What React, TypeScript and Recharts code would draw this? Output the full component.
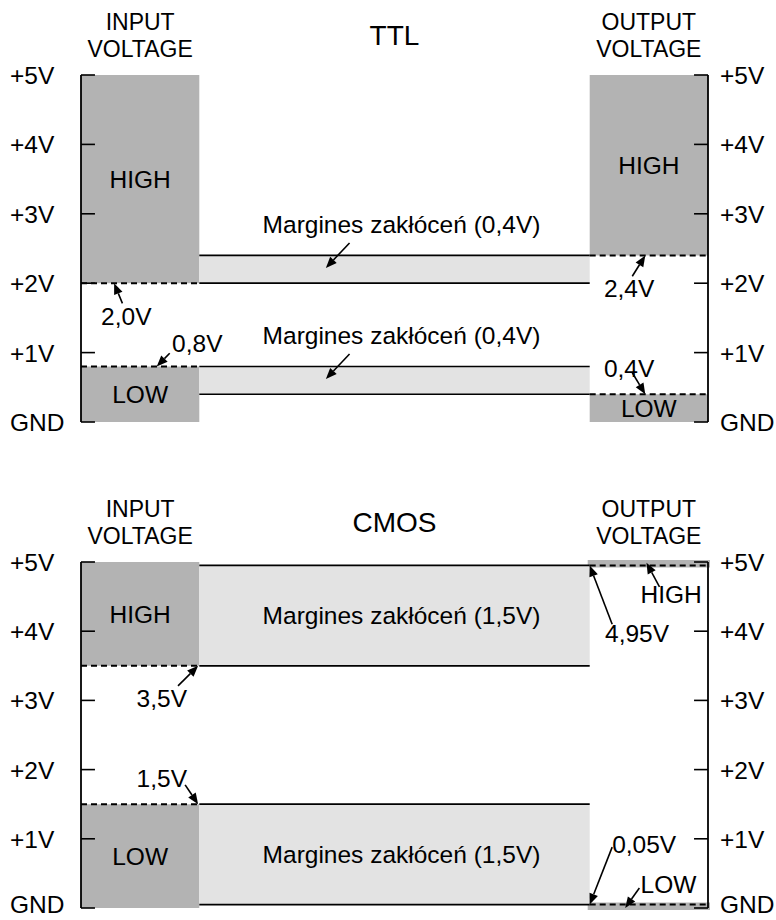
import { ComposedChart, XAxis, YAxis, ReferenceArea, ReferenceLine, Scatter } from "recharts"

// logic families and their threshold levels (V)
const families = ["TTL", "CMOS"]
const inputHigh = [2.0, 3.5] // VIH min
const inputLow = [0.8, 1.5] // VIL max
const outputHigh = [2.4, 4.95] // VOH min
const outputLow = [0.4, 0.05] // VOL max
const marginLabels = ["0,4V", "1,5V"]
const marginText = "Margines zakłóceń"
const voltTicks = [0, 1, 2, 3, 4, 5]
const supply = 5
const columnNames = ["INPUT", "VOLTAGE", "OUTPUT"]

// column edges on the x scale
const IN_L = 0
const IN_R = 1
const OUT_L = 4.3
const OUT_R = 5.3
const TICK = 0.118
const headerTicks = [0.5, 2.65, 4.8]

const FONT = "'Liberation Sans', Arial, sans-serif"
const FS = 24.5
const HFS = 23
const DARK = "#b3b3b3"
const LIGHT = "#e3e3e3"

const fmt = (v: number) =>
  (Number.isInteger(Math.round(v * 1000) / 100) ? v.toFixed(1) : v.toFixed(2)).replace(".", ",") + "V"

// annotation placement: text anchor (tx, ty), arrow tail (ax, ay), arrow head (hx, hy)
const ttlNotes = [
  { text: fmt(inputHigh[0]), tx: 0.17, ty: 1.4, ax: 0.35, ay: 1.71, hx: 0.28, hy: inputHigh[0] },
  { text: fmt(inputLow[0]), tx: 0.77, ty: 1.01, ax: 0.75, ay: 0.99, hx: 0.64, hy: inputLow[0] },
  { text: fmt(outputHigh[0]), tx: 4.42, ty: 1.8, ax: 4.66, ay: 2.1, hx: 4.77, hy: outputHigh[0] },
  { text: fmt(outputLow[0]), tx: 4.42, ty: 0.65, ax: 4.66, ay: 0.71, hx: 4.77, hy: outputLow[0] },
]
const cmosNotes = [
  { text: fmt(inputHigh[1]), tx: 0.47, ty: 2.9, ax: 0.82, ay: 3.21, hx: 0.99, hy: inputHigh[1] },
  { text: fmt(inputLow[1]), tx: 0.47, ty: 1.75, ax: 0.88, ay: 1.78, hx: 0.99, hy: inputLow[1] },
  { text: fmt(outputHigh[1]), tx: 4.43, ty: 3.84, ax: 4.49, ay: 4.1, hx: 4.3, hy: outputHigh[1] },
  { text: "HIGH", tx: 4.73, ty: 4.41, ax: 4.89, ay: 4.64, hx: 4.78, hy: 4.99 },
  { text: fmt(outputLow[1]), tx: 4.49, ty: 0.79, ax: 4.49, ay: 0.88, hx: 4.3, hy: outputLow[1] },
  { text: "LOW", tx: 4.73, ty: 0.22, ax: 4.72, ay: 0.29, hx: 4.6, hy: 0.0 },
]

const Arrow = (p: any) => {
  const { x1, y1, x2, y2 } = p
  const dx = x2 - x1
  const dy = y2 - y1
  const len = Math.hypot(dx, dy) || 1
  const ux = dx / len
  const uy = dy / len
  const L = 11
  const W = 4.5
  const bx = x2 - ux * L
  const by = y2 - uy * L
  const pts = `${x2},${y2} ${bx - uy * W},${by + ux * W} ${bx + uy * W},${by - ux * W}`
  return (
    <g>
      <line x1={x1} y1={y1} x2={bx} y2={by} stroke="#000" strokeWidth={1.6} />
      <polygon points={pts} fill="#000" />
    </g>
  )
}

const voltLabel = (v: number) => (v === 0 ? "GND" : `+${v}V`)

const VoltTick = (p: any) => (
  <text
    x={p.x}
    y={p.y + (p.payload.value === 0 ? p.gndDy : 9)}
    textAnchor="start"
    fontSize={FS}
    fontFamily={FONT}
    fill="#000"
  >
    {voltLabel(p.payload.value)}
  </text>
)

function LevelChart({ i, height, top, bottom }: { i: number; height: number; top: number; bottom: number }) {
  const vih = inputHigh[i]
  const vil = inputLow[i]
  const voh = outputHigh[i]
  const vol = outputLow[i]
  const notes = i === 0 ? ttlNotes : cmosNotes
  const cmos = i === 1
  const gndDy = cmos ? 5 : 9
  const lbl = { fill: "#000", fontSize: FS, fontFamily: FONT }
  const marginPos = cmos ? "center" : "top"

  // arrows into the TTL noise-margin bands
  const bandArrows = cmos
    ? []
    : [(vih + voh) / 2, (vol + vil) / 2].map((c) => ({ ax: 2.27, ay: c + 0.38, hx: 2.07, hy: c + 0.02 }))

  const HeaderTick = (p: any) => {
    const x = p.x
    const y = p.y
    if (p.index === 1) {
      return (
        <text x={x} y={y - 30} textAnchor="middle" fontSize={28} fontFamily={FONT} fill="#000">
          {families[i]}
        </text>
      )
    }
    return (
      <g>
        <text x={x} y={y - 45} textAnchor="middle" fontSize={HFS} fontFamily={FONT} fill="#000">
          {p.index === 0 ? columnNames[0] : columnNames[2]}
        </text>
        <text x={x} y={y - 18} textAnchor="middle" fontSize={HFS} fontFamily={FONT} fill="#000">
          {columnNames[1]}
        </text>
      </g>
    )
  }

  return (
    <ComposedChart width={776} height={height} margin={{ top, right: 0, bottom, left: 0 }}>
      <XAxis
        dataKey="x"
        type="number"
        orientation="top"
        domain={[IN_L, OUT_R]}
        allowDataOverflow
        ticks={headerTicks}
        interval={0}
        height={60}
        axisLine={false}
        tickLine={false}
        tickSize={0}
        tickMargin={0}
        tick={(p: any) => <HeaderTick {...p} />}
      />
      <YAxis
        dataKey="y"
        type="number"
        domain={[0, supply]}
        allowDataOverflow
        ticks={voltTicks}
        interval={0}
        width={81}
        axisLine={false}
        tickLine={false}
        tickSize={-14}
        tickMargin={85}
        tick={(p: any) => <VoltTick {...p} gndDy={gndDy} />}
      />
      <YAxis
        yAxisId="r"
        orientation="right"
        type="number"
        domain={[0, supply]}
        allowDataOverflow
        ticks={voltTicks}
        interval={0}
        width={68}
        axisLine={false}
        tickLine={false}
        tickSize={-14}
        tickMargin={26}
        tick={(p: any) => <VoltTick {...p} gndDy={gndDy} />}
      />

      {/* input column */}
      <ReferenceArea x1={IN_L} x2={IN_R} y1={vih} y2={supply} fill={DARK} fillOpacity={1} stroke="none"
        label={{ value: "HIGH", position: "center", ...lbl }} />
      <ReferenceArea x1={IN_L} x2={IN_R} y1={0} y2={vil} fill={DARK} fillOpacity={1} stroke="none"
        label={{ value: "LOW", position: "center", ...lbl }} />

      {/* output column */}
      <ReferenceArea x1={OUT_L} x2={OUT_R} y1={voh} y2={supply} fill={DARK} fillOpacity={1}
        stroke={cmos ? DARK : "none"} strokeWidth={cmos ? 4 : 0}
        label={cmos ? undefined : { value: "HIGH", position: "center", ...lbl }} />
      <ReferenceArea x1={OUT_L} x2={OUT_R} y1={0} y2={vol} fill={DARK} fillOpacity={1}
        stroke={cmos ? DARK : "none"} strokeWidth={cmos ? 4 : 0}
        label={cmos ? undefined : { value: "LOW", position: "center", ...lbl }} />

      {/* noise margin bands */}
      <ReferenceArea x1={IN_R} x2={OUT_L} y1={vih} y2={voh} fill={LIGHT} fillOpacity={1} stroke="none"
        label={{ value: `${marginText} (${marginLabels[i]})`, position: marginPos, offset: 22, dx: 7, ...lbl }} />
      <ReferenceArea x1={IN_R} x2={OUT_L} y1={vol} y2={vil} fill={LIGHT} fillOpacity={1} stroke="none"
        label={{ value: `${marginText} (${marginLabels[i]})`, position: marginPos, offset: 22, dx: 7, ...lbl }} />

      {[vih, voh, vol, vil].map((v, k) => (
        <ReferenceLine key={"b" + k} segment={[{ x: IN_R, y: v }, { x: OUT_L, y: v }]} stroke="#000" strokeWidth={1.7} />
      ))}
      {[vih, vil].map((v, k) => (
        <ReferenceLine key={"di" + k} segment={[{ x: IN_L, y: v }, { x: IN_R, y: v }]} stroke="#000" strokeWidth={2} strokeDasharray="6 4" />
      ))}
      {[voh, vol].map((v, k) => (
        <ReferenceLine key={"do" + k} segment={[{ x: OUT_L, y: v }, { x: OUT_R, y: v }]} stroke="#000" strokeWidth={2} strokeDasharray="6 4" />
      ))}

      {/* voltage scales drawn over the columns */}
      <ReferenceLine x={IN_L} stroke="#000" strokeWidth={1.8} ifOverflow="visible" />
      <ReferenceLine x={OUT_R} stroke="#000" strokeWidth={1.8} ifOverflow="visible" />
      {voltTicks.map((v) => (
        <ReferenceLine key={"tl" + v} segment={[{ x: IN_L, y: v }, { x: IN_L + TICK, y: v }]} stroke="#000" strokeWidth={1.6} ifOverflow="visible" />
      ))}
      {voltTicks.map((v) => (
        <ReferenceLine key={"tr" + v} segment={[{ x: OUT_R - TICK, y: v }, { x: OUT_R, y: v }]} stroke="#000" strokeWidth={1.6} ifOverflow="visible" />
      ))}

      {[...notes, ...bandArrows].map((n, k) => (
        <ReferenceLine key={"a" + k} segment={[{ x: n.ax, y: n.ay }, { x: n.hx, y: n.hy }]} ifOverflow="visible" shape={Arrow} />
      ))}

      <Scatter
        data={notes.map((n) => ({ x: n.tx, y: n.ty, text: n.text }))}
        isAnimationActive={false}
        shape={(p: any) => (
          <text x={p.cx} y={p.cy} textAnchor="start" fontSize={FS} fontFamily={FONT} fill="#000">
            {p.payload.text}
          </text>
        )}
      />
    </ComposedChart>
  )
}

export default function App() {
  return (
    <div style={{ position: "absolute", left: 0, top: 0, width: 776, height: 920, background: "#fff", fontFamily: FONT }}>
      <LevelChart i={0} height={480} top={15} bottom={58} />
      <LevelChart i={1} height={440} top={22} bottom={12} />
    </div>
  )
}
